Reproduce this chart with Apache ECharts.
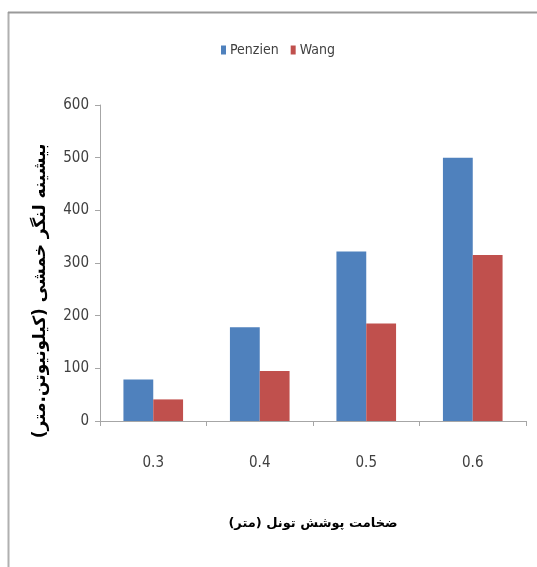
<!DOCTYPE html>
<html>
<head>
<meta charset="utf-8">
<script src="https://cdn.jsdelivr.net/npm/echarts@6/dist/echarts.min.js"></script>
<style>
  html, body { margin: 0; padding: 0; background: #fff; }
  #chart { width: 537px; height: 567px; }
</style>
</head>
<body>
<div id="chart"></div>
<script>
// Tunnel cover thickness (m) vs. maximum bending moment (kN.m)
const categories = ['0.3', '0.4', '0.5', '0.6'];
const penzien = [79, 178, 322, 500];
const wang = [41, 95, 185, 315];
const yTicks = { min: 0, max: 600, interval: 100 };

const xTitle = 'ضخامت پوشش تونل (متر)';
const yTitle = 'بیشینه لنگر خمشی (کیلونیوتن.متر)';

const labelFont = '"Liberation Sans Narrow", "DejaVu Sans Condensed", sans-serif';
const titleFont = '"DejaVu Sans", "Noto Sans", sans-serif';
const axisGray = '#a6a6a6';

const chart = echarts.init(document.getElementById('chart'), null, { renderer: 'canvas' });

chart.setOption({
  backgroundColor: '#ffffff',
  animation: false,
  graphic: [
    { type: 'line', shape: { x1: 8.5, y1: 12, x2: 8.5, y2: 567 }, style: { stroke: '#b0b0b0', lineWidth: 2 } },
    { type: 'line', shape: { x1: 8, y1: 12.5, x2: 537, y2: 12.5 }, style: { stroke: '#9a9a9a', lineWidth: 2 } }
  ],
  legend: {
    left: 216,
    top: 38,
    itemWidth: 5,
    itemHeight: 9,
    itemGap: 12,
    icon: 'rect',
    textStyle: { fontFamily: labelFont, fontSize: 14, color: '#404040', padding: [0, 0, 0, -1] },
    data: ['Penzien', 'Wang']
  },
  grid: { left: 100, right: 11, top: 105, bottom: 146, containLabel: false },
  xAxis: {
    type: 'category',
    data: categories,
    name: xTitle,
    nameLocation: 'middle',
    nameGap: 96,
    nameTextStyle: { fontFamily: titleFont, fontWeight: 'bold', fontSize: 13, color: '#000' },
    axisLine: { lineStyle: { color: axisGray, width: 1 } },
    axisTick: { show: true, length: 5, lineStyle: { color: axisGray } },
    axisLabel: { fontFamily: labelFont, fontSize: 15, color: '#404040', margin: 35 }
  },
  yAxis: {
    type: 'value',
    min: yTicks.min,
    max: yTicks.max,
    interval: yTicks.interval,
    name: yTitle,
    nameLocation: 'middle',
    nameRotate: 90,
    nameGap: 51,
    nameTextStyle: { fontFamily: titleFont, fontWeight: 'bold', fontSize: 17, color: '#000', padding: [0, 56, 0, 0] },
    splitLine: { show: false },
    axisLine: { show: true, lineStyle: { color: axisGray, width: 1 } },
    axisTick: { show: true, length: 5, lineStyle: { color: axisGray } },
    axisLabel: { fontFamily: labelFont, fontSize: 15, color: '#404040', margin: 11 }
  },
  series: [
    {
      name: 'Penzien',
      type: 'bar',
      data: penzien,
      barGap: '0%',
      barCategoryGap: '44%',
      itemStyle: { color: '#4f81bd' }
    },
    {
      name: 'Wang',
      type: 'bar',
      data: wang,
      barGap: '0%',
      barCategoryGap: '44%',
      itemStyle: { color: '#c0504d' }
    }
  ]
});
</script>
</body>
</html>
